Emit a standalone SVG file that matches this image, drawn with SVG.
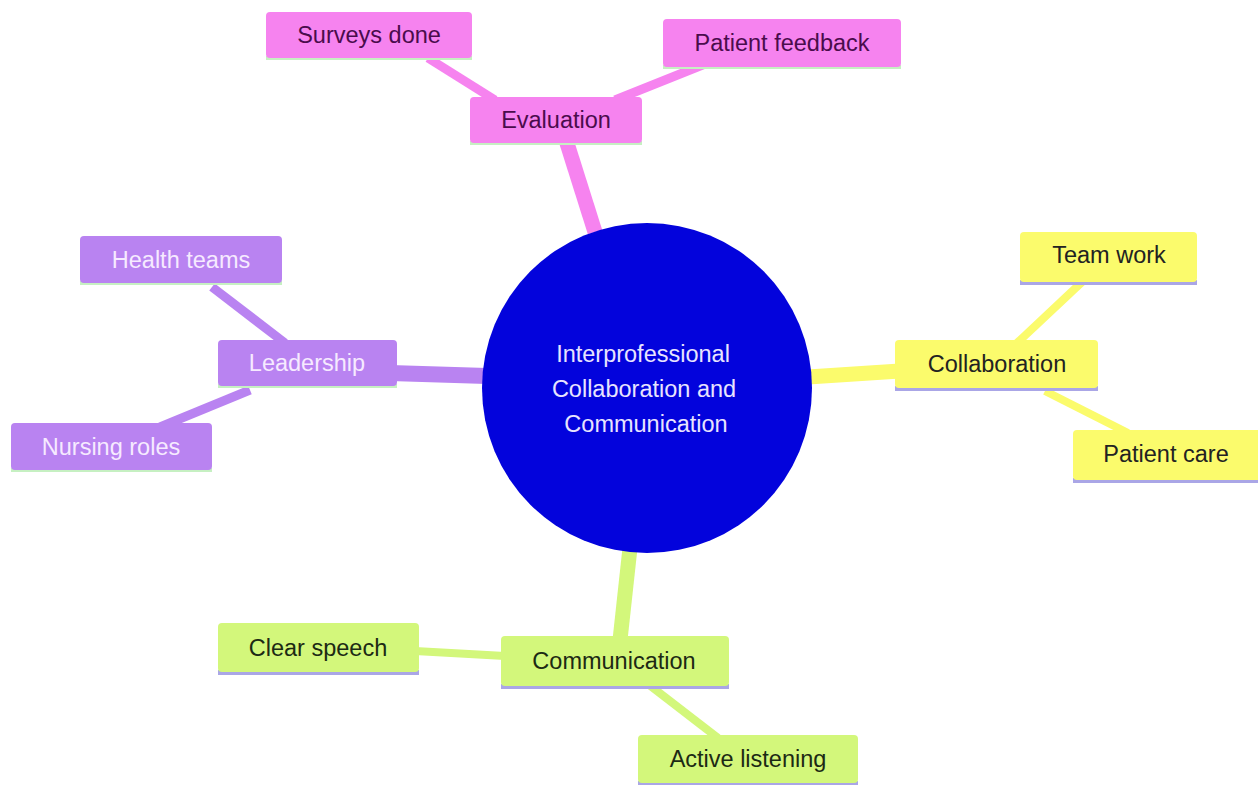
<svg xmlns="http://www.w3.org/2000/svg" width="1258" height="785" viewBox="0 0 1258 785">
<style>
text{font-family:"Liberation Sans",Arial,sans-serif;font-size:23.5px;text-anchor:middle}
.pk{fill:#f683ef}.pu{fill:#b983f1}.ye{fill:#fbfb6c}.gr{fill:#d3f77b}
.ulg{fill:#c6f0c2}.ulv{fill:#aaa6e6}
.tpk{fill:#4a0c4c}.tpu{fill:#f6eaff}.tye{fill:#222222}.tgr{fill:#1c2a14}
.c{fill:none;stroke-linecap:butt}
</style>
<rect width="1258" height="785" fill="#ffffff"/>
<g id="connectors">
<line class="c" x1="566" y1="140" x2="595" y2="232" stroke="#f683ef" stroke-width="15"/>
<line class="c" x1="428" y1="58" x2="495" y2="100" stroke="#f683ef" stroke-width="9"/>
<line class="c" x1="615" y1="100" x2="705" y2="64" stroke="#f683ef" stroke-width="9"/>
<line class="c" x1="390" y1="373" x2="487" y2="376" stroke="#b983f1" stroke-width="16"/>
<line class="c" x1="212" y1="287" x2="285" y2="343" stroke="#b983f1" stroke-width="9"/>
<line class="c" x1="250" y1="390" x2="160" y2="427" stroke="#b983f1" stroke-width="9"/>
<line class="c" x1="808" y1="377" x2="900" y2="371" stroke="#fbfb6c" stroke-width="15"/>
<line class="c" x1="1017" y1="343" x2="1082" y2="282" stroke="#fbfb6c" stroke-width="8"/>
<line class="c" x1="1045" y1="391" x2="1128" y2="433" stroke="#fbfb6c" stroke-width="8"/>
<line class="c" x1="630" y1="548" x2="620" y2="640" stroke="#d3f77b" stroke-width="15"/>
<line class="c" x1="415" y1="651" x2="505" y2="656" stroke="#d3f77b" stroke-width="8"/>
<line class="c" x1="648" y1="684" x2="718" y2="738" stroke="#d3f77b" stroke-width="8"/>
</g>
<g id="center">
<circle cx="647" cy="388" r="165" fill="#0303dc"/>
<text x="643" y="362" fill="#e8e4ff">Interprofessional</text>
<text x="644" y="397" fill="#e8e4ff">Collaboration and</text>
<text x="646" y="432" fill="#e8e4ff"> Communication</text>
</g>
<g id="evaluation">
<rect class="ulg" x="470" y="141" width="172" height="4"/>
<rect class="pk" x="470" y="97" width="172" height="46" rx="4"/>
<text class="tpk" x="556" y="128">Evaluation</text>
</g>
<g id="surveys-done">
<rect class="ulg" x="266" y="56" width="206" height="4"/>
<rect class="pk" x="266" y="12" width="206" height="46" rx="4"/>
<text class="tpk" x="369" y="43">Surveys done</text>
</g>
<g id="patient-feedback">
<rect class="ulg" x="663" y="65" width="238" height="4"/>
<rect class="pk" x="663" y="19" width="238" height="48" rx="4"/>
<text class="tpk" x="782" y="51">Patient feedback</text>
</g>
<g id="leadership">
<rect class="ulg" x="218" y="384" width="179" height="4"/>
<rect class="pu" x="218" y="340" width="179" height="46" rx="4"/>
<text class="tpu" x="307" y="371">Leadership</text>
</g>
<g id="health-teams">
<rect class="ulg" x="80" y="281" width="202" height="4"/>
<rect class="pu" x="80" y="236" width="202" height="47" rx="4"/>
<text class="tpu" x="181" y="268">Health teams</text>
</g>
<g id="nursing-roles">
<rect class="ulg" x="11" y="468" width="201" height="4"/>
<rect class="pu" x="11" y="423" width="201" height="47" rx="4"/>
<text class="tpu" x="111" y="455">Nursing roles</text>
</g>
<g id="collaboration">
<rect class="ulv" x="895" y="386" width="203" height="5"/>
<rect class="ye" x="895" y="340" width="203" height="48" rx="4"/>
<text class="tye" x="997" y="372">Collaboration</text>
</g>
<g id="team-work">
<rect class="ulv" x="1020" y="280" width="177" height="5"/>
<rect class="ye" x="1020" y="232" width="177" height="50" rx="4"/>
<text class="tye" x="1109" y="263">Team work</text>
</g>
<g id="patient-care">
<rect class="ulv" x="1073" y="478" width="190" height="5"/>
<rect class="ye" x="1073" y="430" width="190" height="50" rx="4"/>
<text class="tye" x="1166" y="462">Patient care</text>
</g>
<g id="communication">
<rect class="ulv" x="501" y="684" width="228" height="5"/>
<rect class="gr" x="501" y="636" width="228" height="50" rx="4"/>
<text class="tgr" x="614" y="669">Communication</text>
</g>
<g id="clear-speech">
<rect class="ulv" x="218" y="670" width="201" height="5"/>
<rect class="gr" x="218" y="623" width="201" height="49" rx="4"/>
<text class="tgr" x="318" y="656">Clear speech</text>
</g>
<g id="active-listening">
<rect class="ulv" x="638" y="781" width="220" height="5"/>
<rect class="gr" x="638" y="735" width="220" height="48" rx="4"/>
<text class="tgr" x="748" y="767">Active listening</text>
</g>
</svg>
